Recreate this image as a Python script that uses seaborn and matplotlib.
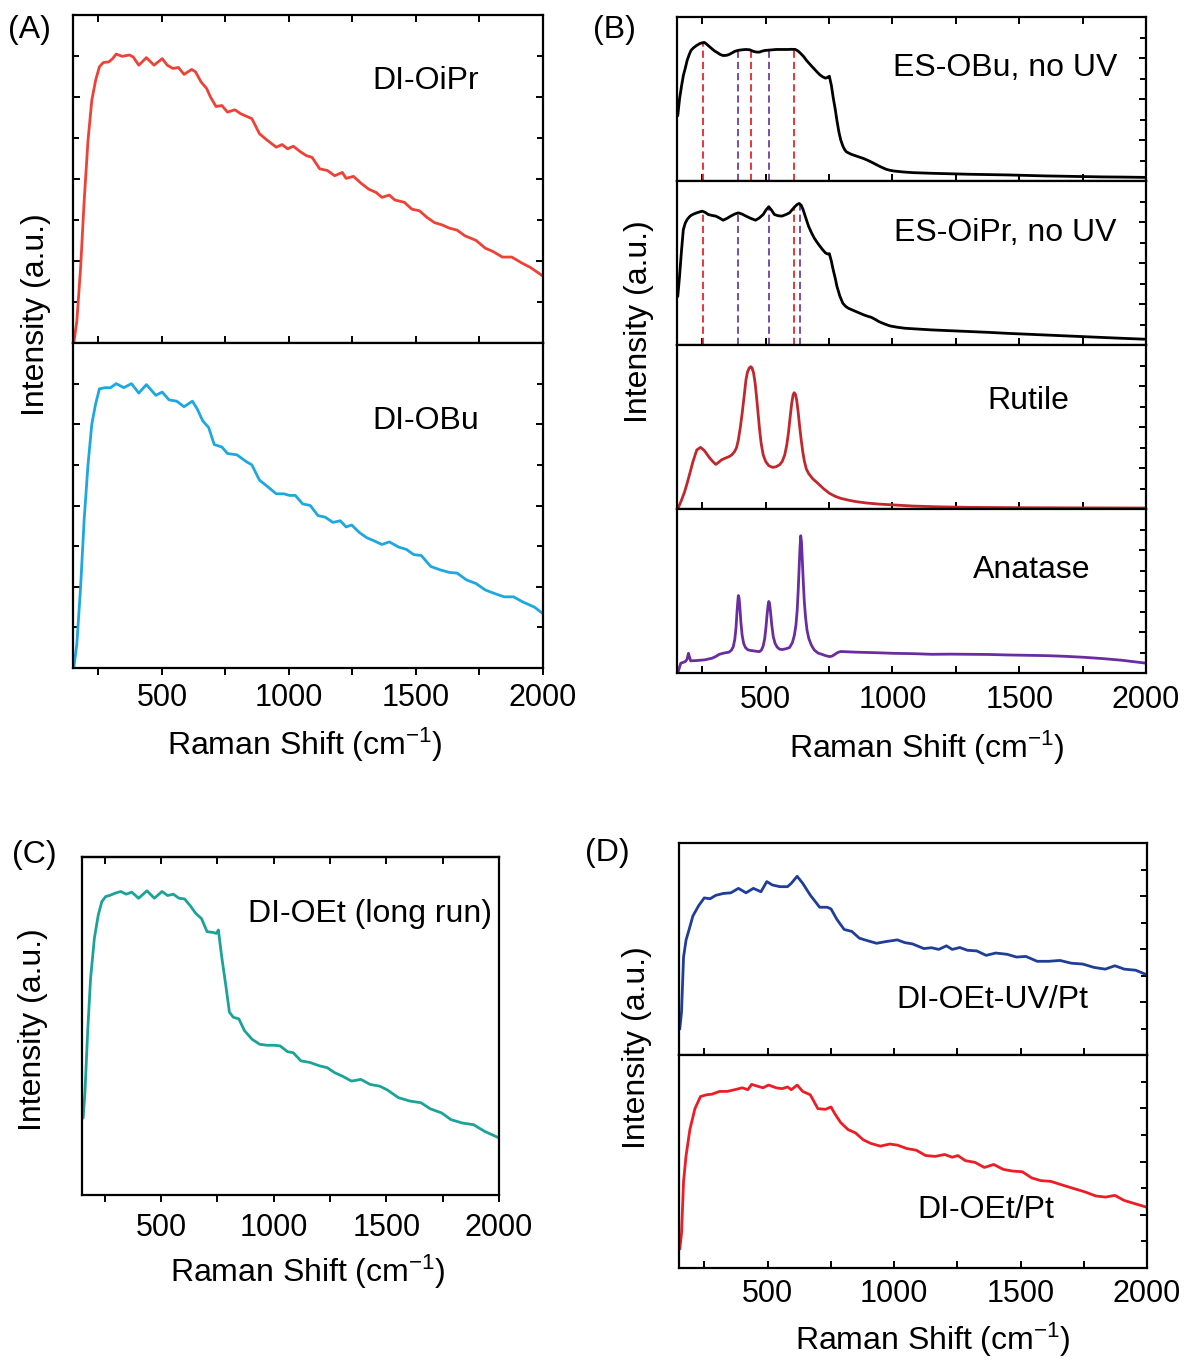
import numpy as np
import matplotlib
matplotlib.use("Agg")
import matplotlib.pyplot as plt
import seaborn as sns
from matplotlib.ticker import FixedLocator, NullFormatter

sns.set_style("ticks")
plt.rcParams['font.family'] = ['Liberation Sans', 'DejaVu Sans']
plt.rcParams['mathtext.default'] = 'regular'
plt.rcParams['text.color'] = 'black'
plt.rcParams['axes.labelcolor'] = 'black'
plt.rcParams['xtick.color'] = 'black'
plt.rcParams['ytick.color'] = 'black'
plt.rcParams['axes.edgecolor'] = 'black'

# ---------------- data (Raman shift in cm-1, normalized intensity per panel) ----------------
oipr_x = [153,165,180,194,209,224,239,254,269,291,306,320,343,372,387,409,439,469,501,521,543,565,587,617,632,654,676,691,713,736,758,787,810,839,854,884,913,950,973,995,1017,1047,1069,1091,1121,1151,1180,1210,1225,1254,1284,1314,1343,1366,1395,1417,1454,1484,1514,1543,1573,1603,1632,1662,1692,1736,1773,1803,1840,1877,1914,1951,2000]
oipr_y = [0.0,0.066,0.230,0.434,0.617,0.740,0.801,0.842,0.855,0.857,0.867,0.881,0.874,0.878,0.872,0.847,0.870,0.847,0.867,0.847,0.837,0.840,0.819,0.834,0.827,0.796,0.776,0.750,0.721,0.724,0.704,0.711,0.699,0.689,0.684,0.638,0.619,0.597,0.605,0.592,0.600,0.582,0.571,0.566,0.531,0.526,0.510,0.520,0.502,0.508,0.487,0.469,0.459,0.444,0.451,0.436,0.429,0.408,0.403,0.383,0.367,0.360,0.350,0.344,0.327,0.313,0.289,0.279,0.262,0.262,0.245,0.230,0.204]

obu_x = [153,165,180,194,209,224,239,254,276,298,320,350,380,409,439,476,501,528,558,587,620,639,661,684,706,736,758,795,832,854,884,913,950,980,1002,1025,1054,1084,1114,1143,1173,1202,1225,1247,1277,1306,1336,1366,1395,1432,1462,1491,1521,1558,1595,1632,1662,1699,1736,1773,1810,1847,1884,1921,1966,2000]
obu_y = [0.0,0.073,0.25,0.458,0.625,0.75,0.8125,0.859,0.8625,0.8625,0.875,0.8625,0.875,0.846,0.872,0.839,0.849,0.825,0.821,0.804,0.821,0.797,0.76,0.74,0.6875,0.68,0.66,0.656,0.635,0.625,0.578,0.56,0.536,0.536,0.531,0.531,0.505,0.5,0.469,0.464,0.448,0.453,0.434,0.440,0.417,0.401,0.391,0.380,0.388,0.372,0.365,0.349,0.346,0.3125,0.302,0.294,0.292,0.271,0.260,0.240,0.229,0.219,0.219,0.203,0.1875,0.167]

esobu_x = [153,160,168,175,183,190,198,205,215,228,240,250,258,265,276,288,299,310,321,332,344,355,366,377,392,407,422,437,452,464,475,486,497,512,527,542,557,572,587,602,617,628,639,650,661,676,691,703,714,725,736,744,751,755,759,766,774,781,789,796,804,811,818,837,856,871,886,901,916,931,946,961,976,991,1005,1043,1080,1155,1230,1305,1380,1454,1529,1604,1678,1753,1828,1903,2000]
esobu_y = [0.398,0.5,0.58,0.643,0.69,0.735,0.77,0.796,0.812,0.827,0.838,0.843,0.845,0.837,0.822,0.806,0.792,0.782,0.771,0.765,0.766,0.771,0.780,0.790,0.797,0.800,0.802,0.800,0.790,0.786,0.786,0.792,0.796,0.798,0.800,0.802,0.802,0.802,0.802,0.803,0.802,0.792,0.776,0.758,0.735,0.709,0.684,0.664,0.647,0.635,0.627,0.632,0.639,0.610,0.582,0.510,0.439,0.367,0.296,0.250,0.214,0.192,0.178,0.163,0.153,0.145,0.137,0.127,0.116,0.104,0.092,0.081,0.071,0.065,0.061,0.055,0.051,0.047,0.044,0.041,0.039,0.037,0.034,0.031,0.029,0.027,0.025,0.024,0.022]

esoipr_x = [153,160,168,175,183,190,198,205,215,228,240,250,262,273,288,303,318,332,347,362,377,392,407,422,441,460,475,490,501,512,523,534,549,564,579,594,606,617,625,632,640,647,658,669,680,691,703,714,725,736,744,751,759,766,774,781,792,804,815,826,841,856,871,886,901,916,931,946,969,991,1020,1050,1102,1155,1230,1305,1380,1454,1529,1604,1678,1753,1828,1903,2000]
esoipr_y = [0.296,0.418,0.58,0.704,0.745,0.765,0.780,0.790,0.798,0.806,0.812,0.816,0.808,0.796,0.790,0.786,0.774,0.761,0.772,0.786,0.798,0.806,0.798,0.786,0.772,0.761,0.775,0.796,0.823,0.843,0.822,0.796,0.788,0.786,0.795,0.806,0.828,0.847,0.858,0.863,0.852,0.827,0.775,0.724,0.686,0.653,0.625,0.602,0.580,0.561,0.555,0.557,0.510,0.459,0.408,0.357,0.300,0.255,0.236,0.224,0.214,0.204,0.194,0.184,0.176,0.169,0.157,0.143,0.128,0.116,0.108,0.102,0.097,0.092,0.087,0.082,0.077,0.071,0.066,0.061,0.056,0.051,0.046,0.041,0.035]

rutile_x = [153,168,180,190,202,213,228,243,258,270,280,292,303,314,325,340,355,366,377,385,392,400,407,415,422,428,435,441,446,452,458,464,470,476,482,490,500,512,527,540,555,565,575,583,590,597,603,608,612,617,622,628,634,640,646,652,660,669,685,706,728,751,773,796,826,856,901,946,1013,1080,1192,1305,1500,1700,2000]
rutile_y = [0.0,0.055,0.105,0.157,0.225,0.289,0.360,0.376,0.356,0.330,0.309,0.288,0.272,0.284,0.299,0.310,0.319,0.330,0.350,0.375,0.421,0.50,0.583,0.69,0.787,0.835,0.860,0.868,0.860,0.830,0.770,0.680,0.580,0.480,0.400,0.330,0.289,0.264,0.254,0.257,0.270,0.290,0.330,0.390,0.470,0.570,0.650,0.695,0.709,0.700,0.665,0.590,0.500,0.420,0.350,0.295,0.245,0.217,0.185,0.156,0.124,0.096,0.078,0.065,0.054,0.045,0.036,0.030,0.024,0.018,0.013,0.010,0.008,0.007,0.006]

anatase_x = [153,160,165,175,183,190,195,199,204,215,228,243,258,273,288,302,317,336,355,365,372,378,383,387,390,392,395,398,402,407,413,420,430,442,452,465,475,483,490,496,501,505,509,512,515,519,524,530,537,545,555,566,580,594,605,613,619,624,628,632,635,638,641,644,648,652,657,663,670,680,691,706,721,736,751,762,773,784,796,826,856,930,1005,1080,1155,1230,1305,1380,1454,1529,1604,1678,1753,1828,1903,2000]
anatase_y = [0.0,0.035,0.06,0.065,0.07,0.085,0.12,0.10,0.074,0.075,0.076,0.078,0.080,0.085,0.090,0.100,0.114,0.122,0.127,0.140,0.160,0.205,0.280,0.380,0.440,0.472,0.455,0.400,0.310,0.230,0.180,0.155,0.141,0.137,0.135,0.132,0.130,0.140,0.165,0.210,0.280,0.350,0.410,0.436,0.425,0.370,0.290,0.220,0.180,0.158,0.145,0.143,0.148,0.155,0.185,0.230,0.290,0.380,0.500,0.650,0.760,0.837,0.800,0.700,0.560,0.440,0.340,0.260,0.210,0.170,0.141,0.122,0.114,0.106,0.100,0.103,0.114,0.125,0.131,0.129,0.127,0.124,0.120,0.118,0.114,0.115,0.114,0.113,0.110,0.108,0.106,0.102,0.096,0.088,0.078,0.060]

oet_x = [155,163,175,188,205,222,238,255,272,297,322,346,371,401,438,471,505,530,555,580,605,630,655,680,705,730,746,755,771,788,804,821,846,871,904,938,971,1004,1029,1062,1087,1121,1162,1204,1237,1271,1304,1346,1387,1429,1471,1504,1554,1604,1654,1695,1745,1787,1837,1887,1937,2000]
oet_y = [0.228,0.303,0.481,0.640,0.760,0.828,0.868,0.883,0.886,0.893,0.898,0.890,0.896,0.878,0.900,0.878,0.898,0.886,0.890,0.878,0.876,0.856,0.833,0.818,0.779,0.777,0.774,0.784,0.699,0.620,0.541,0.526,0.521,0.486,0.461,0.446,0.443,0.443,0.441,0.424,0.421,0.397,0.392,0.382,0.377,0.362,0.352,0.337,0.342,0.327,0.322,0.311,0.288,0.278,0.273,0.255,0.243,0.223,0.213,0.208,0.188,0.169]

uvpt_x = [153,160,168,178,190,205,228,250,273,295,325,355,385,415,444,474,497,519,549,579,594,617,639,669,706,736,751,774,803,833,863,893,931,968,1013,1043,1073,1118,1148,1177,1207,1230,1260,1290,1327,1364,1402,1447,1484,1521,1566,1611,1656,1701,1746,1791,1835,1873,1910,1955,2000]
uvpt_y = [0.122,0.203,0.462,0.543,0.592,0.656,0.705,0.741,0.737,0.753,0.762,0.765,0.786,0.765,0.786,0.770,0.818,0.802,0.794,0.794,0.810,0.843,0.810,0.754,0.697,0.697,0.689,0.640,0.592,0.583,0.551,0.540,0.527,0.535,0.543,0.530,0.524,0.502,0.506,0.498,0.515,0.498,0.507,0.494,0.491,0.470,0.481,0.475,0.462,0.465,0.442,0.442,0.446,0.433,0.429,0.413,0.405,0.421,0.405,0.400,0.378]

pt_x = [153,160,168,178,193,213,235,258,280,310,340,370,400,422,437,459,482,504,534,557,579,594,617,639,669,699,729,751,766,789,818,848,878,908,946,983,1013,1050,1088,1125,1163,1200,1230,1252,1282,1320,1357,1394,1432,1469,1507,1544,1581,1619,1664,1708,1753,1798,1836,1873,1910,1955,2000]
pt_y = [0.089,0.163,0.407,0.528,0.650,0.748,0.805,0.813,0.816,0.829,0.829,0.837,0.846,0.837,0.862,0.854,0.846,0.859,0.846,0.842,0.850,0.837,0.859,0.829,0.813,0.748,0.745,0.756,0.724,0.683,0.650,0.634,0.602,0.585,0.572,0.582,0.577,0.561,0.553,0.528,0.524,0.533,0.520,0.528,0.504,0.496,0.472,0.486,0.463,0.455,0.452,0.423,0.410,0.407,0.390,0.374,0.358,0.338,0.333,0.341,0.317,0.301,0.285]

# reference peak positions (dashed markers)
esobu_red = [252, 443, 612]
esobu_purple = [392, 512]
esoipr_red = [252, 612]
esoipr_purple = [392, 512, 636]

major_x = [500, 1000, 1500, 2000]
minor_x = [250, 750, 1250, 1750]

# ---------------- figure ----------------
W, H = 1185, 1360
fig = plt.figure(figsize=(W / 100, H / 100), dpi=100)

def add_ax(l, r, t, b):
    return fig.add_axes([l / W, 1 - b / H, (r - l) / W, (b - t) / H])

FS = 22
FT = 23
LW_SP = 1.6

def style(ax, labels=False, top=False, xdir='in', left=False, right=True, yticks=True, pad=9):
    ax.set_xlim(150, 2000)
    ax.set_ylim(0, 1)
    ax.xaxis.set_major_locator(FixedLocator(major_x))
    ax.xaxis.set_minor_locator(FixedLocator(minor_x))
    ax.tick_params(axis='x', which='both', direction=xdir, top=top, bottom=True,
                   length=5, width=1.4, labelsize=FS, pad=pad, labelbottom=labels,
                   colors='black')
    if yticks:
        ax.yaxis.set_major_locator(FixedLocator([0.25, 0.5, 0.75]))
        ax.yaxis.set_minor_locator(FixedLocator([0.125, 0.375, 0.625, 0.875]))
        ax.tick_params(axis='y', which='major', direction='in', left=left, right=right, length=5, width=1.4)
        ax.tick_params(axis='y', which='minor', direction='in', left=left, right=right, length=4, width=1.4)
    else:
        ax.set_yticks([])
    ax.yaxis.set_major_formatter(NullFormatter())
    ax.yaxis.set_minor_formatter(NullFormatter())
    for s in ax.spines.values():
        s.set_visible(True)
        s.set_linewidth(LW_SP)
        s.set_color('black')

def curve(ax, x, y, color, lw=2.0):
    sns.lineplot(x=x, y=y, ax=ax, color=color, lw=lw, estimator=None, sort=False)

def label(ax, txt, x, y):
    ax.text(x, y, txt, transform=ax.transAxes, ha='center', va='center', fontsize=FT)

# ----- Panel A -----
a1 = add_ax(73, 543, 15, 343)
a2 = add_ax(73, 543, 343, 668)
curve(a1, oipr_x, oipr_y, '#EF4136')
curve(a2, obu_x, obu_y, '#1EA7E1')
style(a1, top=True, left=True)
style(a2, labels=True, xdir='out', left=True, pad=6)
label(a1, 'DI-OiPr', 0.75, 0.80)
label(a2, 'DI-OBu', 0.75, 0.76)

# ----- Panel B -----
b_edges = [17, 181, 345, 509, 673]
bax = [add_ax(677, 1146, b_edges[i], b_edges[i + 1]) for i in range(4)]
curve(bax[0], esobu_x, esobu_y, 'black')
curve(bax[1], esoipr_x, esoipr_y, 'black')
curve(bax[2], rutile_x, rutile_y, '#C1272D')
curve(bax[3], anatase_x, anatase_y, '#6A2DA0')
for ax, xs, ys, reds, purps in [(bax[0], esobu_x, esobu_y, esobu_red, esobu_purple),
                                (bax[1], esoipr_x, esoipr_y, esoipr_red, esoipr_purple)]:
    for p in reds:
        ax.vlines(p, 0, np.interp(p, xs, ys), colors='#E8242B', linestyles=(0, (4, 2.2)), lw=1.3, zorder=1)
    for p in purps:
        ax.vlines(p, 0, np.interp(p, xs, ys), colors='#6C3FA6', linestyles=(0, (4, 2.2)), lw=1.3, zorder=1)
for i, ax in enumerate(bax):
    style(ax, labels=(i == 3), top=(i == 0), pad=9)
label(bax[0], 'ES-OBu, no UV', 0.70, 0.69)
label(bax[1], 'ES-OiPr, no UV', 0.70, 0.68)
label(bax[2], 'Rutile', 0.75, 0.66)
label(bax[3], 'Anatase', 0.757, 0.63)

# ----- Panel C -----
c = add_ax(82, 499, 857, 1195)
curve(c, oet_x, oet_y, '#1BA398')
style(c, labels=True, xdir='out', yticks=False, pad=8)
sec = c.secondary_xaxis('top')
sec.xaxis.set_major_locator(FixedLocator(major_x))
sec.xaxis.set_minor_locator(FixedLocator(minor_x))
sec.tick_params(axis='x', which='both', direction='in', length=5, width=1.4, labeltop=False)
sec.spines['top'].set_linewidth(LW_SP)
label(c, 'DI-OEt (long run)', 0.69, 0.83)

# ----- Panel D -----
d1 = add_ax(679, 1147, 843, 1055)
d2 = add_ax(679, 1147, 1055, 1268)
curve(d1, uvpt_x, uvpt_y, '#1F3D99')
curve(d2, pt_x, pt_y, '#EE1D25')
style(d1, top=False)
style(d2, labels=True, pad=8)
label(d1, 'DI-OEt-UV/Pt', 0.67, 0.26)
label(d2, 'DI-OEt/Pt', 0.655, 0.27)

# ----- axis labels & panel letters -----
xl = 'Raman Shift (cm$^{-1}$)'
yl = 'Intensity (a.u.)'
for (x, y) in [(305, 745), (927, 748), (308, 1272), (933, 1340)]:
    fig.text(x / W, 1 - y / H, xl, ha='center', va='center', fontsize=FT)
for (x, y) in [(36, 315), (639, 322), (33, 1030), (637, 1048)]:
    fig.text(x / W, 1 - y / H, yl, ha='center', va='center', fontsize=FT, rotation=90)
for (t, x, y) in [('(A)', 29, 30), ('(B)', 614, 30), ('(C)', 34, 855), ('(D)', 607, 853)]:
    fig.text(x / W, 1 - y / H, t, ha='center', va='center', fontsize=FT)

fig.savefig('out.png', dpi=100)
